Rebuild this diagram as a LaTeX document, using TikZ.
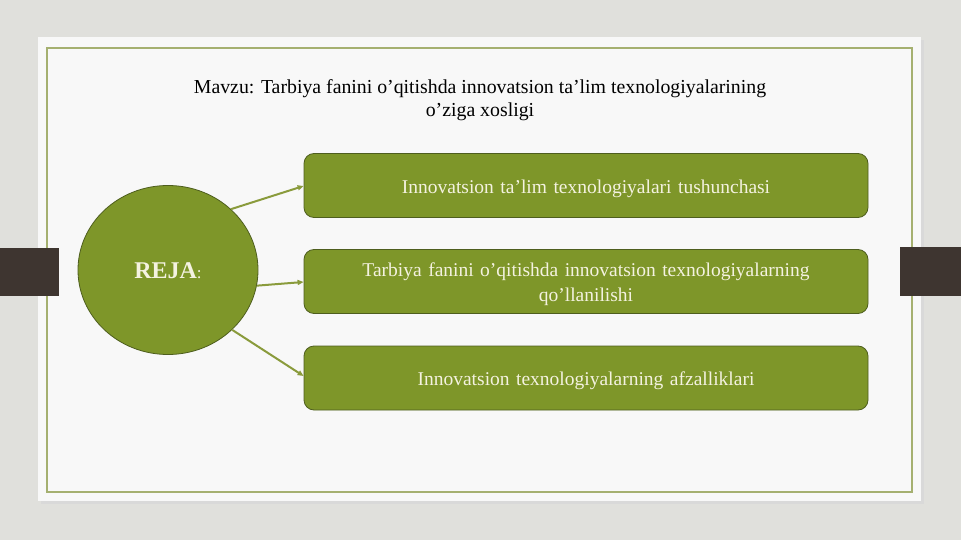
\documentclass[tikz,border=0pt]{standalone}
\usepackage{fontspec}
\setmainfont{Liberation Serif}
\usetikzlibrary{arrows.meta,shapes.geometric}
\definecolor{bgc}{HTML}{E0E0DC}
\definecolor{panel}{HTML}{F8F8F8}
\definecolor{olive}{HTML}{7E9629}
\definecolor{olivedark}{HTML}{4E5E1E}
\definecolor{arrowc}{HTML}{8A9B3C}
\definecolor{framec}{HTML}{A5B070}
\definecolor{tabc}{HTML}{3E3530}
\definecolor{textc}{HTML}{F4F2E0}
\tikzset{
  pill/.style={draw=olivedark, line width=0.8pt, fill=olive, rounded corners=10pt,
    minimum width=564pt, minimum height=64pt, text width=540pt, align=center,
    text=textc, font=\fontsize{19.5}{25}\selectfont, inner sep=0pt,
    execute at begin node={\rule{0pt}{20pt}}},
  conn/.style={draw=arrowc, line width=2pt, -{Triangle[length=6pt,width=5pt]}},
}
\begin{document}
\begin{tikzpicture}[x=1pt,y=-1pt]
\useasboundingbox (0,0) rectangle (961,540);
\fill[bgc] (0,0) rectangle (961,540);
% shadow
\fill[black!15] (41,40) rectangle (924,504);
\fill[panel] (38,37) rectangle (921,501);
\draw[framec, line width=1.2pt] (47,48) rectangle (912,492);
% tabs
\fill[tabc] (0,248) rectangle (59,296);
\fill[tabc] (900,247) rectangle (961,296);
% title
\node[font=\fontsize{19.8}{22.5}\selectfont, align=center, text=black] (title) at (480,100)
  {Mavzu: Tarbiya fanini o’qitishda innovatsion ta’lim texnologiyalarining\\o’ziga xosligi};
% circle
\node[draw=olivedark, line width=0.8pt, fill=olive, ellipse, minimum width=180pt, minimum height=169pt, inner sep=0pt] (reja) at (168,270) {};
\node[text=textc] (rejat) at (168,271) {\fontsize{24}{26}\selectfont\bfseries REJA\fontsize{17}{18}\selectfont\mdseries:};
% boxes
\node[pill] (b1) at (586,185.5) {Innovatsion ta’lim texnologiyalari tushunchasi};
\node[pill] (b2) at (586,281.5) {Tarbiya fanini o’qitishda innovatsion texnologiyalarning\\qo’llanilishi};
\node[pill] (b3) at (586,378) {Innovatsion texnologiyalarning afzalliklari};
% arrows
\draw[conn] (reja.44) -- (b1.west |- 0,186);
\draw[conn] (reja.-10) -- (b2.west |- 0,282);
\draw[conn] (reja.-43) -- (b3.west |- 0,376);
\end{tikzpicture}
\end{document}
